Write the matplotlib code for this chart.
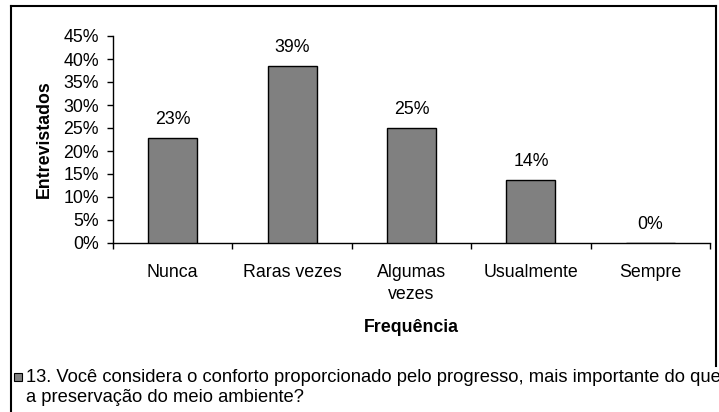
import matplotlib
matplotlib.use("Agg")
import matplotlib.pyplot as plt
from matplotlib.patches import Rectangle
from matplotlib.lines import Line2D
import numpy as np

categories = ["Nunca", "Raras vezes", "Algumas\nvezes", "Usualmente", "Sempre"]
values = [22.8, 38.5, 25.0, 13.7, 0.0]
value_labels = ["23%", "39%", "25%", "14%", "0%"]
yticks = [0, 5, 10, 15, 20, 25, 30, 35, 40, 45]
legend_lines = ["13. Você considera o conforto proporcionado pelo progresso, mais importante do que",
                "a preservação do meio ambiente?"]

plt.rcParams['font.family'] = ['Liberation Sans', 'DejaVu Sans']
FS = 12.8

W, H = 719, 412
fig = plt.figure(figsize=(W/100, H/100), dpi=100)
fig.patch.set_facecolor("white")

def fx(px):
    return px / W

def fy(py):
    return 1 - py / H

# outer frame (left, top, right down to legend)
for xs, ys in [([11, 11], [6, 420]), ([11, 716], [6, 6]), ([716, 716], [6, 366])]:
    fig.add_artist(Line2D([fx(v) for v in xs], [fy(v) for v in ys], transform=fig.transFigure,
                          color="black", linewidth=1.5))

ax = fig.add_axes([fx(113), fy(243), (710-113)/W, (243-36)/H])
x = np.arange(len(categories))
ax.bar(x, values, width=0.41, color="#808080", edgecolor="black", linewidth=1.0, zorder=3)
for xi, v, lab in zip(x, values, value_labels):
    ax.annotate(lab, (xi, v), xytext=(0, 7), textcoords="offset points",
                ha="center", va="bottom", fontsize=FS)

ax.set_xlim(-0.5, len(categories) - 0.5)
ax.set_ylim(0, 45)
ax.set_yticks(yticks)
ax.set_yticklabels([f"{t}%" for t in yticks], fontsize=FS)
ax.set_xticks(np.arange(-0.5, len(categories), 1.0))
ax.set_xticklabels([])
ax.set_xticks(x, minor=True)
ax.set_xticklabels(categories, minor=True, fontsize=FS, linespacing=1.4, va="top")
ax.tick_params(axis="x", which="minor", length=0, pad=15)
ax.tick_params(axis="x", which="major", length=4, direction="out", width=1)
ax.tick_params(axis="y", length=4, direction="out", width=1, pad=6)
for s in ["top", "right"]:
    ax.spines[s].set_visible(False)
ax.spines["left"].set_linewidth(1)
ax.spines["bottom"].set_linewidth(1)
ax.set_ylabel("Entrevistados", fontsize=FS, fontweight="bold")
ax.yaxis.set_label_coords(-(113-44)/(710-113), 0.5)
ax.set_xlabel("Frequência", fontsize=FS, fontweight="bold")
ax.xaxis.set_label_coords(0.5, -(327-243)/(243-36))
ax.xaxis.label.set_va("center")
ax.yaxis.label.set_va("center")

# legend
fig.patches.append(Rectangle((fx(14), fy(381)), 8/W, 8/H, transform=fig.transFigure,
                             facecolor="#808080", edgecolor="black", linewidth=0.8))
fig.text(fx(26), fy(377), legend_lines[0], fontsize=13.2, va="center", ha="left")
fig.text(fx(26), fy(398), legend_lines[1], fontsize=13.2, va="center", ha="left")

fig.savefig("out.png", dpi=100)
